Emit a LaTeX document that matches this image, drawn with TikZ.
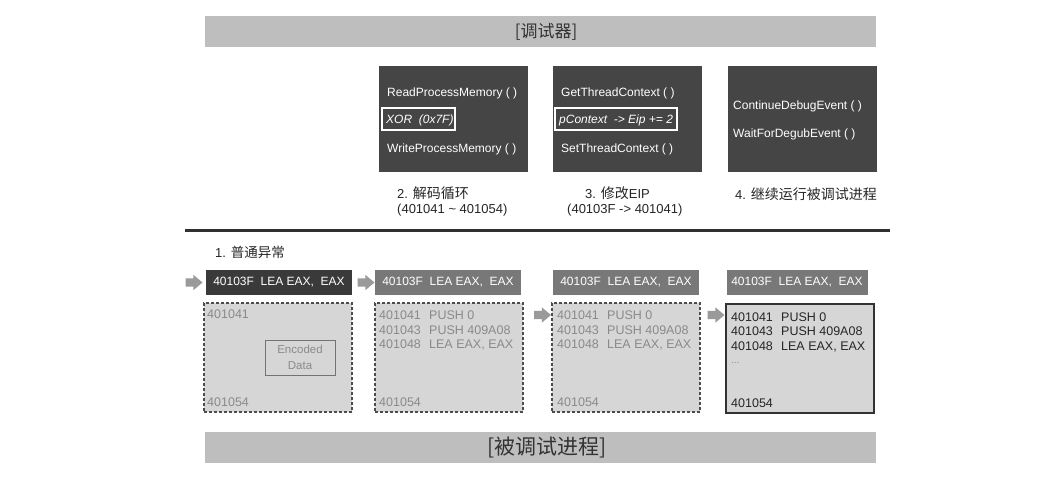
\documentclass[tikz,border=0pt]{standalone}
\usepackage{fontspec}
\setmainfont{Liberation Sans}
\newfontfamily\cjk{Noto Sans CJK SC}
\usetikzlibrary{shapes.arrows}
\definecolor{bannerfill}{HTML}{BEBEBE}
\definecolor{apifill}{HTML}{454545}
\definecolor{hdrdark}{HTML}{3A3A3A}
\definecolor{hdrgray}{HTML}{787878}
\definecolor{bodyfill}{HTML}{D6D6D6}
\definecolor{fainttext}{HTML}{8A8A8A}
\definecolor{arrowfill}{HTML}{9A9A9A}
\definecolor{rulecol}{HTML}{303030}
\begin{document}
\begin{tikzpicture}[x=1pt,y=-1pt,
  bannerbox/.style={fill=bannerfill, draw=none, minimum width=671pt, minimum height=31pt, inner sep=0pt},
  bannertext/.style={inner sep=0pt, text=black!80},
  apibox/.style={fill=apifill, minimum width=149pt, minimum height=106pt, inner sep=0pt},
  apitext/.style={anchor=base west, text=white, font=\fontsize{12}{14}\selectfont, inner sep=0pt},
  hlbox/.style={draw=white, line width=1.2pt, fill=none, inner sep=0pt},
  captext/.style={anchor=base west, inner sep=0pt, font=\fontsize{13}{15}\selectfont, text=black!85},
  capcjk/.style={font=\cjk\fontsize{14}{16}\selectfont},
  hdr/.style={minimum width=146pt, minimum height=25pt, inner sep=0pt, text=white, font=\fontsize{12}{14}\selectfont},
  bodybox/.style={fill=bodyfill, minimum width=148pt, minimum height=109pt, inner sep=0pt},
  dashedbody/.style={bodybox, draw=black!70, line width=1.3pt, dash pattern=on 3pt off 2pt},
  solidbody/.style={bodybox, draw=black!80, line width=1.3pt},
  code/.style={anchor=base west, inner sep=0pt, font=\fontsize{12.5}{14.5}\selectfont},
  blockarrow/.style={single arrow, fill=arrowfill, draw=none, minimum height=17pt, inner xsep=0pt, inner ysep=4pt, single arrow head extend=3.5pt, single arrow tip angle=80},
  rulestyle/.style={draw=rulecol, line width=3pt}
]
\useasboundingbox (0,0) rectangle (1046,482);
\fill[white] (0,0) rectangle (1046,482);

% banners
\node[bannerbox] (topbanner) at (540.5,31.5) {};
\node[bannertext, font=\cjk\fontsize{17}{19}\selectfont] (toplabel) at (546,32) {[调试器]};
\node[bannerbox] (botbanner) at (540,447.5) {};
\node[bannertext, font=\cjk\fontsize{21}{23}\selectfont] (botlabel) at (547,447.5) {[被调试进程]};

% debugger API boxes
\node[apibox] (api2) at (453.5,119) {};
\node[apibox] (api3) at (627.5,119) {};
\node[apibox] (api4) at (802,119) {};

\node[apitext] (rpm) at (387,96) {ReadProcessMemory ( )};
\node[hlbox, minimum width=73pt, minimum height=22pt] (xorbox) at (418.5,119) {};
\node[apitext, font=\itshape\fontsize{12}{14}\selectfont] (xor) at (386,123) {XOR \ (0x7F)};
\node[apitext] (wpm) at (387,152) {WriteProcessMemory ( )};

\node[apitext] (gtc) at (561,96) {GetThreadContext ( )};
\node[hlbox, minimum width=122pt, minimum height=22pt] (eipbox) at (616,119) {};
\node[apitext, font=\itshape\fontsize{12}{14}\selectfont] (eip) at (559,123) {pContext \ -> Eip += 2};
\node[apitext] (stc) at (561,152) {SetThreadContext ( )};

\node[apitext] (cde) at (733,109) {ContinueDebugEvent ( )};
\node[apitext] (wfde) at (733,137) {WaitForDegubEvent ( )};

% captions
\node[captext] (cap2a) at (397,198) {2. {\cjk\fontsize{14}{16}\selectfont 解码循环}};
\node[captext] (cap2b) at (397,213) {(401041 \textasciitilde\ 401054)};
\node[captext] (cap3a) at (585,198) {3. {\cjk\fontsize{14}{16}\selectfont 修改}EIP};
\node[captext] (cap3b) at (567,213) {(40103F -> 401041)};
\node[captext] (cap4a) at (735,199) {4. {\cjk\fontsize{14}{16}\selectfont 继续运行被调试进程}};

% separator
\coordinate (ruleL) at (185,230);
\coordinate (ruleR) at (890,230);
\draw[rulestyle] (ruleL) -- (ruleR);

\node[captext] (cap1) at (215,257) {1. {\cjk\fontsize{13.5}{15}\selectfont 普通异常}};

% headers
\node[hdr, fill=hdrdark] (h1) at (279,282.5) {40103F \ LEA EAX, \ EAX};
\node[hdr, fill=hdrgray] (h2) at (448,282.5) {40103F \ LEA EAX, \ EAX};
\node[hdr, fill=hdrgray] (h3) at (626,282.5) {40103F \ LEA EAX, \ EAX};
\node[hdr, fill=hdrgray, minimum width=141pt] (h4) at (797,282.5) {40103F \ LEA EAX, \ EAX};

% bodies
\node[dashedbody] (b1) at (278,357.5) {};
\node[dashedbody] (b2) at (449,357.5) {};
\node[dashedbody] (b3) at (626,357.5) {};
\node[solidbody] (b4) at (800,358.5) {};

% body 1
\node[code, text=fainttext] (b1first) at (207,318) {401041};
\node[code, text=fainttext] (b1last) at (207,406.5) {401054};
\node[draw=black!55, line width=1pt, fill=bodyfill, minimum width=70pt, minimum height=35pt, inner sep=0pt,
      align=center, text=fainttext, font=\fontsize{11.5}{16.5}\selectfont] (enc) at (300,357.5) {Encoded\\Data};

% body 2
\node[code, text=fainttext] (b2r1a) at (379,319.5) {401041};
\node[code, text=fainttext] (b2r1b) at (429,319.5) {PUSH 0};
\node[code, text=fainttext] (b2r2a) at (379,334) {401043};
\node[code, text=fainttext] (b2r2b) at (429,334) {PUSH 409A08};
\node[code, text=fainttext] (b2r3a) at (379,348.5) {401048};
\node[code, text=fainttext] (b2r3b) at (429,348.5) {LEA EAX, EAX};
\node[code, text=fainttext] (b2last) at (379,406.5) {401054};

% body 3
\node[code, text=fainttext] (b3r1a) at (557,319.5) {401041};
\node[code, text=fainttext] (b3r1b) at (607,319.5) {PUSH 0};
\node[code, text=fainttext] (b3r2a) at (557,334) {401043};
\node[code, text=fainttext] (b3r2b) at (607,334) {PUSH 409A08};
\node[code, text=fainttext] (b3r3a) at (557,348.5) {401048};
\node[code, text=fainttext] (b3r3b) at (607,348.5) {LEA EAX, EAX};
\node[code, text=fainttext] (b3last) at (557,406.5) {401054};

% body 4
\node[code, text=black!85] (b4r1a) at (731,321) {401041};
\node[code, text=black!85] (b4r1b) at (781,321) {PUSH 0};
\node[code, text=black!85] (b4r2a) at (731,335.5) {401043};
\node[code, text=black!85] (b4r2b) at (781,335.5) {PUSH 409A08};
\node[code, text=black!85] (b4r3a) at (731,350) {401048};
\node[code, text=black!85] (b4r3b) at (781,350) {LEA EAX, EAX};
\node[code, text=fainttext, font=\fontsize{10}{12}\selectfont] (b4dots) at (731,363) {...};
\node[code, text=black!85] (b4last) at (731,407.5) {401054};

% block arrows
\node[blockarrow] (ar1) at (191.5,282.5) {};
\node[blockarrow] (ar2) at (363.5,282.5) {};
\node[blockarrow] (ar3) at (540,315) {};
\node[blockarrow] (ar4) at (713.5,315) {};
\end{tikzpicture}
\end{document}
